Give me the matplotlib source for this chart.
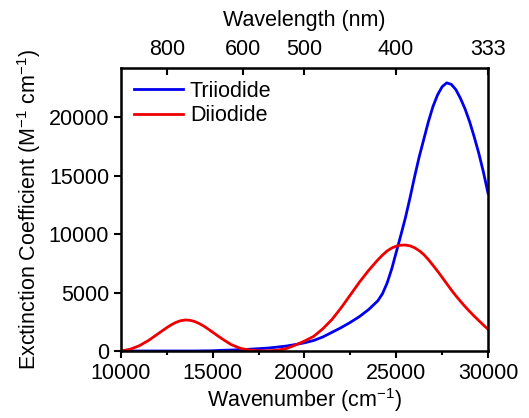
import matplotlib.pyplot as plt
from matplotlib.ticker import MultipleLocator

plt.rcParams['font.family'] = ['Liberation Sans', 'DejaVu Sans']
plt.rcParams['mathtext.fontset'] = 'custom'
plt.rcParams['mathtext.rm'] = 'Liberation Sans'

# Triiodide, wavenumber (cm^-1) vs extinction coefficient
tri_wn = [10000, 11000, 12000, 13000, 14000, 14500, 15000, 15500, 16000, 16500,
          17000, 17500, 18000, 18500, 19000, 19500, 20000, 20500, 21000, 21500,
          22000, 22500, 23000, 23500, 24000, 24250, 24500, 24750, 25000, 25250,
          25500, 25750, 26000, 26250, 26500, 26750, 27000, 27250, 27500, 27750,
          28000, 28250, 28500, 28750, 29000, 29250, 29500, 29750, 30000]
tri_eps = [0, 0, 0, 0, 0, 10, 20, 60, 80, 110,
           150, 200, 250, 330, 420, 550, 700, 900, 1200, 1600,
           2000, 2450, 2950, 3550, 4300, 4900, 5800, 7000, 8450, 9900,
           11400, 13100, 14900, 16600, 18100, 19600, 20900, 21900, 22600, 22930,
           22800, 22350, 21600, 20700, 19600, 18300, 16900, 15300, 13500]

# Diiodide
di_wn = [10000, 10500, 11000, 11500, 12000, 12250, 12500, 12750, 13000, 13250,
         13500, 13750, 14000, 14250, 14500, 14750, 15000, 15250, 15500, 16000,
         16500, 17000, 17500, 18000, 18500, 19000, 19500, 20000, 20500, 21000,
         21500, 22000, 22500, 23000, 23500, 24000, 24250, 24500, 24750, 25000,
         25250, 25500, 25750, 26000, 26250, 26500, 26750, 27000, 27250, 27500,
         27750, 28000, 28250, 28500, 28750, 29000, 29250, 29500, 29750, 30000]
di_eps = [0, 150, 450, 900, 1450, 1730, 2000, 2250, 2450, 2590,
          2650, 2630, 2530, 2360, 2140, 1880, 1600, 1320, 1050, 550,
          230, 80, 20, 10, 60, 200, 500, 850, 1250, 1900,
          2700, 3700, 4800, 5900, 6900, 7800, 8200, 8550, 8800, 8970,
          9050, 9060, 8990, 8830, 8580, 8250, 7820, 7330, 6830, 6300,
          5760, 5220, 4720, 4250, 3800, 3380, 2980, 2600, 2220, 1860]

wavelength_ticks = [800, 600, 500, 400, 333]

fs = 15.5
fig = plt.figure(figsize=(5.29, 4.18), dpi=100)
ax = fig.add_axes([0.2287, 0.1603, 0.6938, 0.677])

ax.plot(tri_wn, tri_eps, color='#0000ee', lw=2, label='Triiodide')
ax.plot(di_wn, di_eps, color='#ee0000', lw=2, label='Diiodide')

ax.set_xlim(10000, 30000)
ax.set_ylim(0, 24200)
ax.xaxis.set_major_locator(MultipleLocator(5000))
ax.xaxis.set_minor_locator(MultipleLocator(2500))
ax.yaxis.set_major_locator(MultipleLocator(5000))
ax.tick_params(axis='both', which='major', labelsize=fs, width=1.5, length=5, direction='out')
ax.tick_params(axis='x', which='minor', width=1.5, length=3, direction='out')
for s in ax.spines.values():
    s.set_linewidth(1.8)

ax.set_xlabel('Wavenumber (cm$^{-1}$)', fontsize=fs, labelpad=2)
ax.set_ylabel('Exctinction Coefficient (M$^{-1}$ cm$^{-1}$)', fontsize=fs, labelpad=4)

top = ax.twiny()
top.set_xlim(ax.get_xlim())
top.set_xticks([1e7 / w for w in wavelength_ticks])
top.set_xticklabels([str(w) for w in wavelength_ticks])
top.tick_params(axis='x', labelsize=fs, width=1.5, length=5, direction='in', pad=6)
top.set_xlabel('Wavelength (nm)', fontsize=fs, labelpad=9)

ax.legend(loc='upper left', frameon=False, fontsize=fs, handlelength=2.3,
          borderaxespad=0.2, labelspacing=0.15, handletextpad=0.3)

fig.savefig('out.png', dpi=100)
